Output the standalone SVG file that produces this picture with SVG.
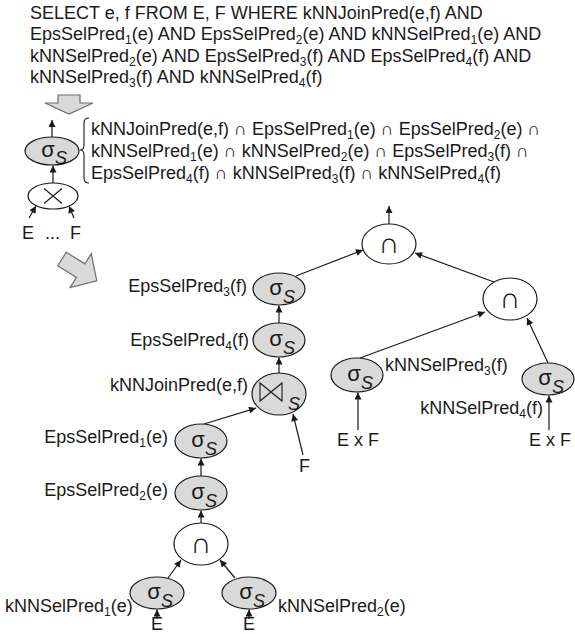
<svg xmlns="http://www.w3.org/2000/svg" width="575" height="634" viewBox="0 0 575 634">
<defs>
<marker id="ah" viewBox="0 0 10 10" refX="10" refY="5" markerWidth="8" markerHeight="7" markerUnits="userSpaceOnUse" orient="auto">
<path d="M0,0 L10,5 L0,10 z" fill="#1a1a1a"/>
</marker>
<style>
.t{font-family:"Liberation Sans",Arial,sans-serif;font-size:18px;fill:#1a1a1a}
.sb{font-size:12px}
.g{fill:#d9d9d9;stroke:#1a1a1a;stroke-width:1.2}
.w{fill:#fff;stroke:#1a1a1a;stroke-width:1.2}
.sg{font-family:"Liberation Sans",Arial,sans-serif;font-size:22px;fill:#1a1a1a;text-anchor:middle}
.ss{font-family:"Liberation Sans",Arial,sans-serif;font-size:18px;font-style:italic;fill:#1a1a1a;text-anchor:middle}
.cap{font-family:"Liberation Sans","DejaVu Sans",sans-serif;font-size:29px;fill:#1a1a1a;text-anchor:middle}
.e{stroke:#1a1a1a;stroke-width:1.2;fill:none;marker-end:url(#ah)}
.ba{fill:#d9d9d9;stroke:#6e6e6e;stroke-width:1.2}
.sym{fill:none;stroke:#1a1a1a;stroke-width:1.1;stroke-linejoin:miter}
</style>
</defs>
<rect width="575" height="634" fill="#fff"/>

<g id="query">
<text class="t" x="30" y="18.5">SELECT e, f FROM E, F WHERE kNNJoinPred(e,f) AND</text>
<text class="t" x="30" y="40">EpsSelPred<tspan class="sb" dy="4">1</tspan><tspan dy="-4">(e) AND EpsSelPred</tspan><tspan class="sb" dy="4">2</tspan><tspan dy="-4">(e) AND kNNSelPred</tspan><tspan class="sb" dy="4">1</tspan><tspan dy="-4">(e) AND</tspan></text>
<text class="t" x="30" y="61.5">kNNSelPred<tspan class="sb" dy="4">2</tspan><tspan dy="-4">(e) AND EpsSelPred</tspan><tspan class="sb" dy="4">3</tspan><tspan dy="-4">(f) AND EpsSelPred</tspan><tspan class="sb" dy="4">4</tspan><tspan dy="-4">(f) AND</tspan></text>
<text class="t" x="30" y="83">kNNSelPred<tspan class="sb" dy="4">3</tspan><tspan dy="-4">(f) AND kNNSelPred</tspan><tspan class="sb" dy="4">4</tspan><tspan dy="-4">(f)</tspan></text>
</g>

<g id="arrow-down">
<path class="ba" d="M58,95 L80,95 L80,103 L93,103 L69,114 L45,103 L58,103 Z"/>
</g>
<g id="arrow-diag">
<path class="ba" transform="translate(62,259) rotate(32)" d="M0,-8 L22,-8 L22,-20 L41,0 L22,20 L22,8 L0,8 Z"/>
</g>

<g id="formula">
<path d="M89,118 Q84,118 84,123 L84,145 Q84,150 80,150 Q84,150 84,155 L84,178 Q84,183 89,183" fill="none" stroke="#1a1a1a" stroke-width="1.1"/>
<text class="t" x="91" y="135">kNNJoinPred(e,f) ∩ EpsSelPred<tspan class="sb" dy="4">1</tspan><tspan dy="-4">(e) ∩ EpsSelPred</tspan><tspan class="sb" dy="4">2</tspan><tspan dy="-4">(e) ∩</tspan></text>
<text class="t" x="91" y="157">kNNSelPred<tspan class="sb" dy="4">1</tspan><tspan dy="-4">(e) ∩ kNNSelPred</tspan><tspan class="sb" dy="4">2</tspan><tspan dy="-4">(e) ∩ EpsSelPred</tspan><tspan class="sb" dy="4">3</tspan><tspan dy="-4">(f) ∩</tspan></text>
<text class="t" x="91" y="179">EpsSelPred<tspan class="sb" dy="4">4</tspan><tspan dy="-4">(f) ∩ kNNSelPred</tspan><tspan class="sb" dy="4">3</tspan><tspan dy="-4">(f) ∩ kNNSelPred</tspan><tspan class="sb" dy="4">4</tspan><tspan dy="-4">(f)</tspan></text>
</g>

<g id="edges">
<line class="e" x1="52" y1="137" x2="52" y2="120"/>
<line class="e" x1="53" y1="183" x2="53" y2="165.5"/>
<line class="e" x1="29" y1="218" x2="36" y2="206"/>
<line class="e" x1="74" y1="218" x2="69" y2="206"/>
<line class="e" x1="389" y1="224" x2="389" y2="206"/>
<line class="e" x1="494" y1="282" x2="415" y2="253"/>
<line class="e" x1="296" y1="276" x2="363" y2="250"/>
<line class="e" x1="279" y1="323" x2="279" y2="305.5"/>
<line class="e" x1="279" y1="373" x2="279" y2="357.5"/>
<line class="e" x1="303" y1="455" x2="293" y2="414"/>
<line class="e" x1="204" y1="424" x2="256" y2="408"/>
<line class="e" x1="201" y1="476" x2="201" y2="458.5"/>
<line class="e" x1="201" y1="523" x2="201" y2="510.5"/>
<line class="e" x1="168" y1="578" x2="181" y2="560"/>
<line class="e" x1="235" y1="578" x2="220" y2="560"/>
<line class="e" x1="157" y1="619" x2="157" y2="609.5"/>
<line class="e" x1="249" y1="619" x2="249" y2="609.5"/>
<line class="e" x1="360" y1="358" x2="485" y2="312"/>
<line class="e" x1="548" y1="363" x2="527" y2="318"/>
<line class="e" x1="358" y1="430" x2="358" y2="392.5"/>
<line class="e" x1="549" y1="430" x2="549" y2="395.5"/>
</g>

<g id="n-sigma-all">
<ellipse class="g" cx="52" cy="151" rx="27" ry="14"/>
<text class="sg" x="48" y="157">σ</text><text class="ss" x="61" y="164">S</text>
</g>
<g id="n-cross">
<ellipse class="w" cx="53" cy="196" rx="25" ry="13"/>
<path class="sym" d="M44,188.5 L62,203.5 M44,203.5 L62,188.5"/>
</g>
<g id="n-inputs">
<text class="t" x="22" y="239">E</text>
<text class="t" x="45" y="239">...</text>
<text class="t" x="70" y="239">F</text>
</g>

<g id="n-top-intersect">
<ellipse class="w" cx="389" cy="244" rx="27" ry="20"/>
<text class="cap" x="389" y="253">∩</text>
</g>
<g id="n-right-intersect">
<ellipse class="w" cx="510" cy="299" rx="27" ry="21"/>
<text class="cap" x="510" y="308">∩</text>
</g>
<g id="n-eps3">
<ellipse class="g" cx="279" cy="289" rx="26" ry="16"/>
<text class="sg" x="276" y="295">σ</text><text class="ss" x="289" y="303">S</text>
<text class="t" x="247" y="292" text-anchor="end">EpsSelPred<tspan class="sb" dy="4">3</tspan><tspan dy="-4">(f)</tspan></text>
</g>
<g id="n-eps4">
<ellipse class="g" cx="279" cy="340" rx="26" ry="17"/>
<text class="sg" x="276" y="346">σ</text><text class="ss" x="289" y="354">S</text>
<text class="t" x="249" y="346" text-anchor="end">EpsSelPred<tspan class="sb" dy="4">4</tspan><tspan dy="-4">(f)</tspan></text>
</g>
<g id="n-join">
<ellipse class="g" cx="279" cy="394" rx="27" ry="21"/>
<path class="sym" d="M260,383 L260,401 L282,383 L282,401 Z"/>
<text class="ss" x="294" y="410">S</text>
<text class="t" x="248" y="391" text-anchor="end">kNNJoinPred(e,f)</text>
</g>
<g id="n-f">
<text class="t" x="299" y="472">F</text>
</g>
<g id="n-eps1">
<ellipse class="g" cx="201" cy="441" rx="26" ry="17"/>
<text class="sg" x="198" y="447">σ</text><text class="ss" x="211" y="455">S</text>
<text class="t" x="168" y="443" text-anchor="end">EpsSelPred<tspan class="sb" dy="4">1</tspan><tspan dy="-4">(e)</tspan></text>
</g>
<g id="n-eps2">
<ellipse class="g" cx="201" cy="493" rx="26" ry="17"/>
<text class="sg" x="198" y="499">σ</text><text class="ss" x="211" y="507">S</text>
<text class="t" x="168" y="496" text-anchor="end">EpsSelPred<tspan class="sb" dy="4">2</tspan><tspan dy="-4">(e)</tspan></text>
</g>
<g id="n-low-intersect">
<ellipse class="w" cx="201" cy="544" rx="27" ry="21"/>
<text class="cap" x="201" y="553">∩</text>
</g>
<g id="n-knn1">
<ellipse class="g" cx="157" cy="593" rx="27" ry="16"/>
<text class="sg" x="154" y="599">σ</text><text class="ss" x="167" y="607">S</text>
<text class="t" x="5" y="612">kNNSelPred<tspan class="sb" dy="4">1</tspan><tspan dy="-4">(e)</tspan></text>
<text class="t" x="157" y="630" text-anchor="middle" font-size="16">E</text>
</g>
<g id="n-knn2">
<ellipse class="g" cx="249" cy="593" rx="27" ry="16"/>
<text class="sg" x="246" y="599">σ</text><text class="ss" x="259" y="607">S</text>
<text class="t" x="278" y="612">kNNSelPred<tspan class="sb" dy="4">2</tspan><tspan dy="-4">(e)</tspan></text>
<text class="t" x="249" y="630" text-anchor="middle" font-size="16">E</text>
</g>
<g id="n-knn3">
<ellipse class="g" cx="357" cy="375" rx="26" ry="17"/>
<text class="sg" x="354" y="381">σ</text><text class="ss" x="367" y="389">S</text>
<text class="t" x="385" y="371">kNNSelPred<tspan class="sb" dy="4">3</tspan><tspan dy="-4">(f)</tspan></text>
<text class="t" x="358" y="446" text-anchor="middle">E x F</text>
</g>
<g id="n-knn4">
<ellipse class="g" cx="548" cy="379" rx="26" ry="16"/>
<text class="sg" x="545" y="385">σ</text><text class="ss" x="558" y="393">S</text>
<text class="t" x="543" y="414" text-anchor="end">kNNSelPred<tspan class="sb" dy="4">4</tspan><tspan dy="-4">(f)</tspan></text>
<text class="t" x="550" y="446" text-anchor="middle">E x F</text>
</g>
</svg>
